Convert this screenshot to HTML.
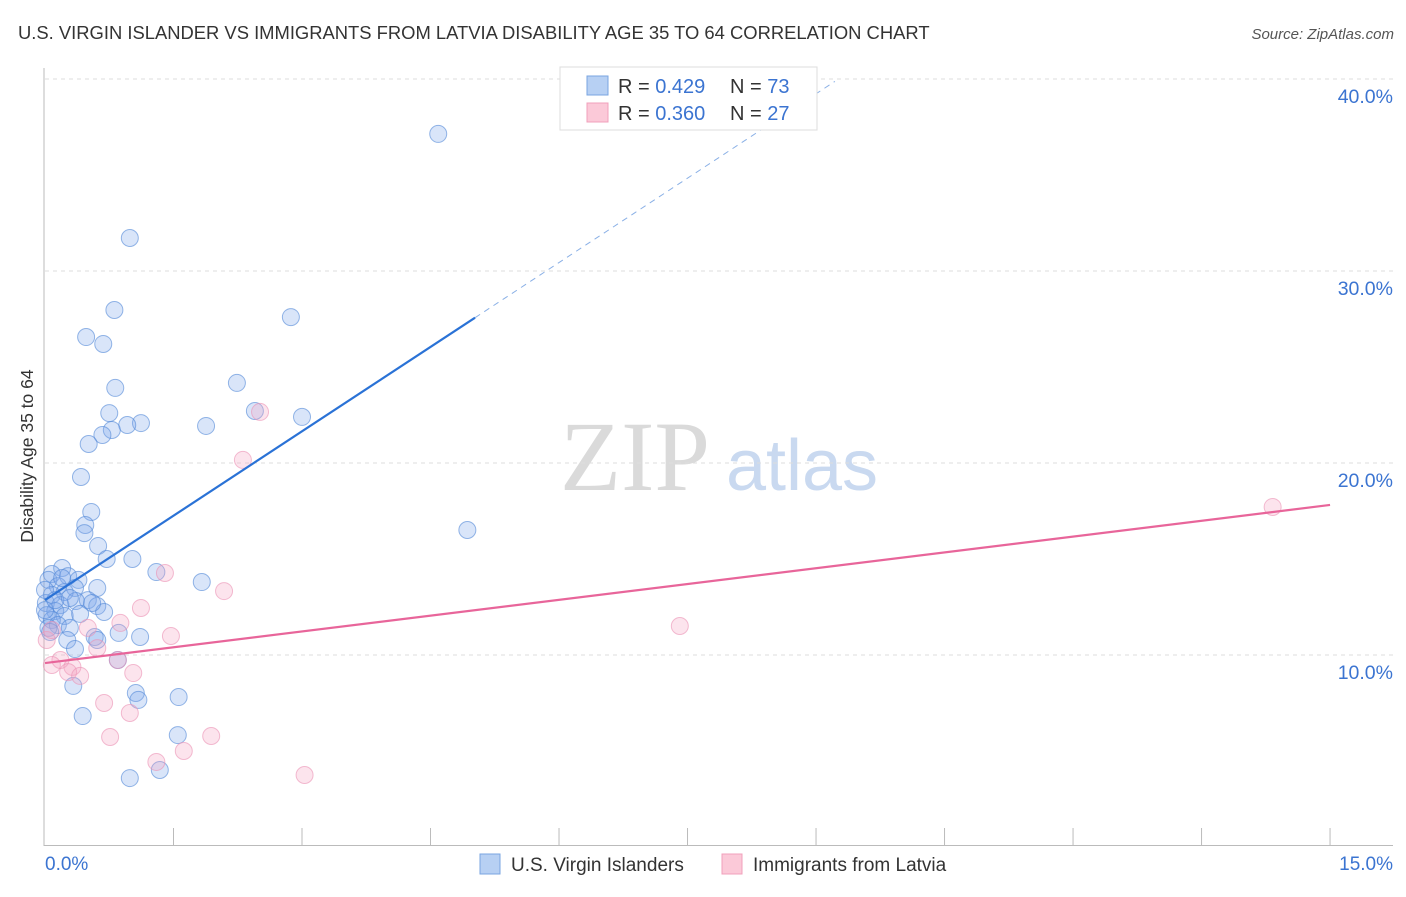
<!DOCTYPE html>
<html><head><meta charset="utf-8">
<style>
body{margin:0;background:#fff;font-family:"Liberation Sans",sans-serif;}
</style></head>
<body>
<svg id="chart" width="1406" height="892" xmlns="http://www.w3.org/2000/svg" font-family="Liberation Sans, sans-serif">
<text x="18" y="39" font-size="18.4" fill="#333">U.S. VIRGIN ISLANDER VS IMMIGRANTS FROM LATVIA DISABILITY AGE 35 TO 64 CORRELATION CHART</text>
<text x="1394" y="39" font-size="15" fill="#555" text-anchor="end" font-style="italic">Source: ZipAtlas.com</text>
<text transform="translate(33,456) rotate(-90)" font-size="17.5" fill="#333" text-anchor="middle">Disability Age 35 to 64</text>
<g>
<text x="635" y="490" font-size="100" fill="#dadada" text-anchor="middle" style="font-family:'Liberation Serif',serif">ZIP</text>
<text x="802" y="490" font-size="72" fill="#c9d9f0" text-anchor="middle">atlas</text>
</g>
<g id="grid"></g><g id="axes"></g><g id="marks"></g>
<g>
<rect x="560" y="67" width="257" height="63" fill="#fff" stroke="#ddd"/>
<rect x="587" y="76" width="21" height="19" fill="#b7d0f3" stroke="#7aa5e0"/>
<rect x="587" y="103" width="21" height="19" fill="#fbc9d8" stroke="#f0a0bb"/>
<text x="618" y="93" font-size="20" fill="#333">R = <tspan fill="#3b74d1">0.429</tspan></text>
<text x="730" y="93" font-size="20" fill="#333">N = <tspan fill="#3b74d1">73</tspan></text>
<text x="618" y="120" font-size="20" fill="#333">R = <tspan fill="#3b74d1">0.360</tspan></text>
<text x="730" y="120" font-size="20" fill="#333">N = <tspan fill="#3b74d1">27</tspan></text>
</g>
<g>
<rect x="480" y="854" width="20" height="20" fill="#b7d0f3" stroke="#7aa5e0"/>
<text x="511" y="871" font-size="19" fill="#333">U.S. Virgin Islanders</text>
<rect x="722" y="854" width="20" height="20" fill="#fbc9d8" stroke="#f0a0bb"/>
<text x="753" y="871" font-size="19" fill="#333">Immigrants from Latvia</text>
</g>
</svg>
<script>
const blueX=[4.59,0.99,0.81,2.87,0.48,0.68,0.82,2.24,0.75,2.45,3.00,1.12,0.96,1.88,0.78,0.67,0.51,0.42,4.93,0.54,0.47,0.46,0.62,0.72,1.02,1.30,1.83,0.20,0.08,0.27,0.39,0.04,0.15,0.35,0.61,0.23,0.08,0.50,0.01,0.36,0.18,0.61,0.12,0.69,0.02,0.23,0.41,0.08,0.15,0.29,0.04,0.86,1.11,0.58,0.61,0.26,0.35,0.85,0.33,1.06,1.09,1.56,0.44,1.55,0.99,1.34,0.00,0.00,0.12,0.55,0.20,0.29,0.06];
const blueY=[37.14,31.72,27.97,27.60,26.56,26.20,23.91,24.17,22.60,22.71,22.40,22.08,21.98,21.93,21.72,21.46,20.99,19.27,16.51,17.45,16.77,16.35,15.68,15.00,15.00,14.32,13.80,14.53,14.22,14.11,13.91,13.91,13.59,13.49,13.49,13.28,13.13,12.86,12.71,12.81,12.60,12.55,12.29,12.24,12.08,12.03,12.14,11.82,11.56,11.41,11.41,11.15,10.94,10.94,10.78,10.78,10.31,9.74,8.39,8.02,7.66,7.81,6.82,5.83,3.59,4.01,13.39,12.34,12.86,12.71,14.01,12.97,11.20];
const pinkX=[14.33,7.41,2.51,2.31,1.40,2.09,1.12,1.47,0.88,0.50,0.61,0.85,1.03,0.18,0.32,0.27,0.41,0.08,0.69,0.99,0.76,1.94,1.30,1.62,3.03,0.02,0.08];
const pinkY=[17.71,11.51,22.66,20.16,14.27,13.33,12.45,10.99,11.67,11.41,10.36,9.74,9.06,9.74,9.38,9.11,8.91,9.48,7.50,6.98,5.73,5.78,4.43,5.00,3.75,10.78,11.30];
const yTicks=[10,20,30,40];
const yTickLabels=["10.0%","20.0%","30.0%","40.0%"];
const xTickVals=[0,1.5,3,4.5,6,7.5,9,10.5,12,13.5,15];
const blueTrend=[12.86,2.93];
const pinkTrend=[9.58,0.549];
const NS="http://www.w3.org/2000/svg";
const X=v=>45+v*85.67, Y=v=>847-v*19.2;
function mk(p,t,a){const e=document.createElementNS(NS,t);for(const k in a)e.setAttribute(k,a[k]);p.appendChild(e);return e;}
const grid=document.getElementById('grid'),axes=document.getElementById('axes'),marks=document.getElementById('marks');
yTicks.forEach((v,i)=>{
 const l=mk(grid,'line',{x1:45,x2:1393,y1:Y(v),y2:Y(v),stroke:'#ddd','stroke-dasharray':'4,4'});
 
 
 const t=mk(grid,'text',{x:1393,y:Y(v)+24,'font-size':19.5,fill:'#3b74d1','text-anchor':'end'});t.textContent=yTickLabels[i];
 
 
});
mk(axes,'line',{x1:44,x2:44,y1:68,y2:846,stroke:'#bbb'});
mk(axes,'line',{x1:44,x2:1393,y1:845.5,y2:845.5,stroke:'#bbb'});
xTickVals.forEach(v=>{if(v>0){const t=mk(axes,'line',{x1:X(v),x2:X(v),y1:828,y2:845,stroke:'#bbb'});
 
 }});
const xl0=mk(axes,'text',{x:45,y:870,'font-size':19,fill:'#3b74d1'});xl0.textContent='0.0%';


const xl1=mk(axes,'text',{x:1393,y:870,'font-size':19,fill:'#3b74d1','text-anchor':'end'});xl1.textContent='15.0%';


blueX.forEach((x,i)=>{const c=mk(marks,'circle',{cx:X(x),cy:Y(blueY[i]),r:8.5,fill:'rgba(130,170,235,0.3)',stroke:'rgba(80,135,215,0.6)','stroke-width':1});
 
 });
pinkX.forEach((x,i)=>{const c=mk(marks,'circle',{cx:X(x),cy:Y(pinkY[i]),r:8.5,fill:'rgba(245,165,195,0.3)',stroke:'rgba(235,145,180,0.6)','stroke-width':1});
 
 });
const bt=x=>blueTrend[0]+blueTrend[1]*x, pt=x=>pinkTrend[0]+pinkTrend[1]*x;
const b1=mk(marks,'line',{x1:X(0),y1:Y(bt(0)),x2:X(5.02),y2:Y(bt(5.02)),stroke:'#2a72d6','stroke-width':2.2});


const b2=mk(marks,'line',{x1:X(5.02),y1:Y(bt(5.02)),x2:X(9.22),y2:Y(bt(9.22)),stroke:'#8ab0e6','stroke-width':1,'stroke-dasharray':'6,5'});


const p1=mk(marks,'line',{x1:X(0),y1:Y(pt(0)),x2:X(15),y2:Y(pt(15)),stroke:'#e8659a','stroke-width':2.2});


</script>
</body></html>
